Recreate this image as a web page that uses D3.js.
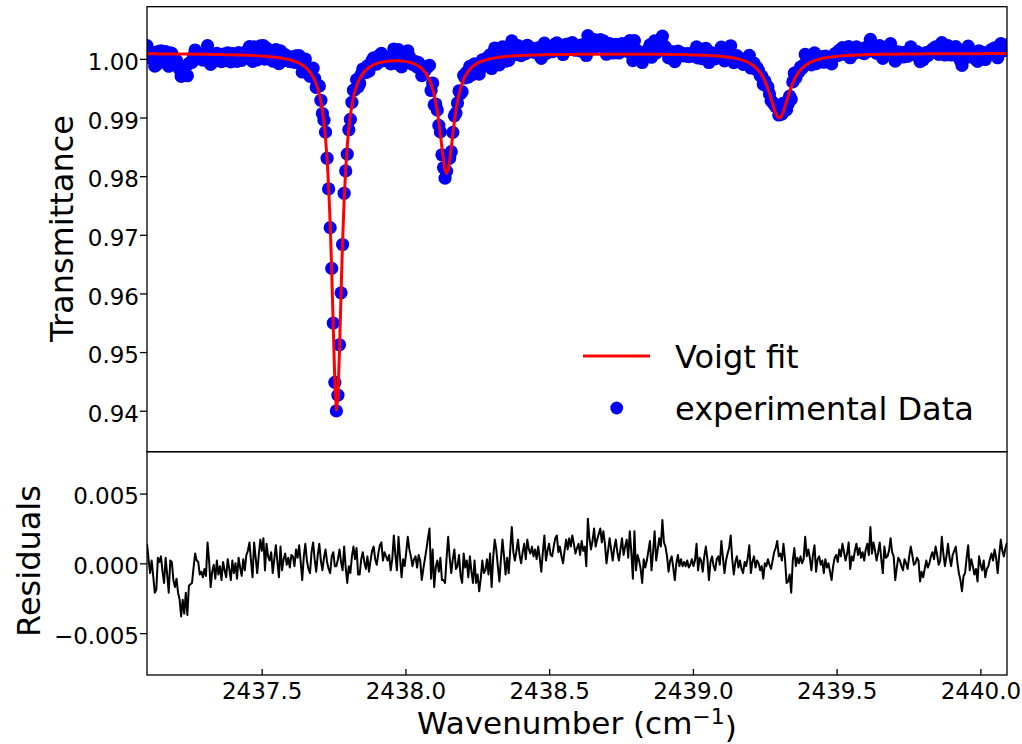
<!DOCTYPE html>
<html>
<head>
<meta charset="utf-8">
<script src="https://cdn.jsdelivr.net/npm/d3@7"></script>
<style>
  body { margin: 0; background: #ffffff; }
  svg { display: block; }
  text { font-family: "DejaVu Sans", sans-serif; fill: #000; }
</style>
</head>
<body>
<svg id="chart" width="1022" height="744"></svg>
<script>
// Spectral grid: first wavenumber and sampling step (cm^-1)
const waveStart = 2437.101;
const waveStep = 0.0054;

// Voigt fit of the transmittance, one value per grid point
const fitTransmittance = [
  1.00086,1.00086,1.00086,1.00086,1.00086,1.00086,1.00086,1.00085,1.00085,1.00085,
  1.00085,1.00085,1.00085,1.00085,1.00085,1.00084,1.00084,1.00084,1.00084,1.00084,
  1.00083,1.00083,1.00083,1.00083,1.00083,1.00082,1.00082,1.00082,1.00082,1.00082,
  1.00081,1.00081,1.00080,1.00080,1.00080,1.00079,1.00079,1.00078,1.00078,1.00077,
  1.00077,1.00077,1.00076,1.00076,1.00075,1.00075,1.00074,1.00074,1.00073,1.00073,
  1.00072,1.00072,1.00071,1.00071,1.00070,1.00070,1.00069,1.00068,1.00068,1.00067,
  1.00066,1.00065,1.00064,1.00063,1.00062,1.00061,1.00060,1.00058,1.00057,1.00056,
  1.00055,1.00054,1.00052,1.00051,1.00049,1.00047,1.00045,1.00043,1.00041,1.00038,
  1.00035,1.00033,1.00030,1.00027,1.00024,1.00020,1.00016,1.00012,1.00007,1.00002,
  0.99996,0.99990,0.99984,0.99976,0.99968,0.99960,0.99950,0.99939,0.99926,0.99912,
  0.99896,0.99878,0.99858,0.99834,0.99806,0.99774,0.99737,0.99692,0.99639,0.99574,
  0.99495,0.99397,0.99274,0.99118,0.98915,0.98650,0.98296,0.97823,0.97191,0.96376,
  0.95415,0.94504,0.94017,0.94236,0.95025,0.96000,0.96885,0.97588,0.98120,0.98516,
  0.98812,0.99038,0.99210,0.99345,0.99450,0.99536,0.99605,0.99660,0.99707,0.99747,
  0.99780,0.99808,0.99832,0.99852,0.99870,0.99886,0.99899,0.99910,0.99920,0.99929,
  0.99937,0.99943,0.99949,0.99954,0.99958,0.99961,0.99964,0.99966,0.99968,0.99969,
  0.99969,0.99969,0.99968,0.99966,0.99964,0.99961,0.99958,0.99954,0.99949,0.99943,
  0.99936,0.99927,0.99917,0.99905,0.99892,0.99875,0.99856,0.99834,0.99808,0.99776,
  0.99739,0.99693,0.99638,0.99571,0.99489,0.99387,0.99261,0.99109,0.98925,0.98714,
  0.98485,0.98267,0.98107,0.98046,0.98106,0.98269,0.98487,0.98717,0.98929,0.99114,
  0.99268,0.99394,0.99497,0.99581,0.99649,0.99705,0.99753,0.99791,0.99824,0.99852,
  0.99875,0.99896,0.99914,0.99930,0.99941,0.99953,0.99963,0.99972,0.99980,0.99988,
  0.99994,1.00000,1.00006,1.00011,1.00016,1.00020,1.00024,1.00029,1.00032,1.00035,
  1.00037,1.00040,1.00042,1.00044,1.00047,1.00048,1.00050,1.00052,1.00053,1.00055,
  1.00056,1.00057,1.00058,1.00060,1.00061,1.00062,1.00063,1.00064,1.00065,1.00065,
  1.00066,1.00067,1.00067,1.00068,1.00069,1.00070,1.00070,1.00071,1.00071,1.00072,
  1.00072,1.00072,1.00073,1.00073,1.00074,1.00074,1.00074,1.00075,1.00075,1.00075,
  1.00076,1.00076,1.00076,1.00076,1.00076,1.00077,1.00077,1.00077,1.00077,1.00077,
  1.00078,1.00078,1.00078,1.00078,1.00078,1.00078,1.00078,1.00078,1.00078,1.00078,
  1.00079,1.00079,1.00079,1.00079,1.00079,1.00079,1.00079,1.00079,1.00079,1.00079,
  1.00080,1.00080,1.00080,1.00080,1.00080,1.00080,1.00080,1.00080,1.00080,1.00080,
  1.00080,1.00080,1.00080,1.00080,1.00080,1.00079,1.00079,1.00079,1.00079,1.00079,
  1.00079,1.00079,1.00079,1.00079,1.00079,1.00078,1.00078,1.00078,1.00078,1.00078,
  1.00078,1.00078,1.00077,1.00077,1.00077,1.00076,1.00076,1.00076,1.00075,1.00075,
  1.00075,1.00074,1.00074,1.00073,1.00073,1.00072,1.00072,1.00071,1.00070,1.00070,
  1.00069,1.00068,1.00068,1.00067,1.00066,1.00065,1.00064,1.00064,1.00063,1.00062,
  1.00061,1.00059,1.00058,1.00056,1.00055,1.00053,1.00051,1.00049,1.00047,1.00045,
  1.00042,1.00040,1.00037,1.00034,1.00031,1.00028,1.00024,1.00020,1.00015,1.00010,
  1.00004,0.99998,0.99991,0.99984,0.99975,0.99966,0.99955,0.99943,0.99930,0.99915,
  0.99897,0.99878,0.99855,0.99829,0.99799,0.99764,0.99724,0.99677,0.99623,0.99561,
  0.99491,0.99412,0.99327,0.99238,0.99151,0.99075,0.99019,0.98993,0.98999,0.99039,
  0.99104,0.99185,0.99273,0.99362,0.99444,0.99520,0.99587,0.99646,0.99697,0.99741,
  0.99779,0.99812,0.99840,0.99865,0.99886,0.99905,0.99922,0.99936,0.99949,0.99960,
  0.99971,0.99980,0.99988,0.99995,1.00002,1.00008,1.00013,1.00018,1.00023,1.00027,
  1.00030,1.00034,1.00037,1.00040,1.00043,1.00046,1.00048,1.00050,1.00052,1.00054,
  1.00055,1.00057,1.00058,1.00060,1.00061,1.00063,1.00064,1.00065,1.00066,1.00067,
  1.00068,1.00069,1.00070,1.00070,1.00071,1.00072,1.00073,1.00073,1.00074,1.00075,
  1.00076,1.00076,1.00077,1.00077,1.00078,1.00078,1.00079,1.00079,1.00079,1.00080,
  1.00080,1.00080,1.00081,1.00081,1.00081,1.00082,1.00082,1.00082,1.00082,1.00083,
  1.00083,1.00083,1.00084,1.00084,1.00084,1.00084,1.00085,1.00085,1.00085,1.00085,
  1.00086,1.00086,1.00086,1.00086,1.00086,1.00086,1.00086,1.00086,1.00086,1.00086,
  1.00087,1.00087,1.00087,1.00087,1.00087,1.00087,1.00087,1.00087,1.00087,1.00087,
  1.00088,1.00088,1.00088,1.00088,1.00088,1.00088,1.00088,1.00088,1.00088,1.00088,
  1.00089,1.00089,1.00089,1.00089,1.00089,1.00089,1.00089,1.00089,1.00089,1.00089,
  1.00090,1.00090,1.00090,1.00090,1.00090,1.00090,1.00090,1.00090,1.00090,1.00090,
  1.00091,1.00091,1.00091,1.00091,1.00091
];

// Fit residuals (data - fit), in units of 1e-4
const residualsE4 = [
  14,3,-7,2,-9,-21,-19,4,1,5,
  -6,-14,4,-8,-21,2,1,-12,-17,-11,
  -21,-26,-38,-26,-36,-21,-37,-16,-15,-14,
  -3,7,2,1,-8,-6,-10,-4,-9,15,
  2,-17,-6,-1,-11,2,-8,-2,-12,1,
  -5,-10,3,-4,-12,2,-7,0,-11,4,
  -3,-9,3,-5,6,9,15,2,-10,15,
  4,-7,6,17,9,18,-5,14,5,2,
  8,-7,3,13,1,-10,12,-5,3,7,
  -1,4,-3,6,5,-2,10,4,13,1,
  -12,5,14,2,-4,-7,8,15,3,-6,
  6,14,2,-5,4,10,1,-4,-7,5,
  8,-2,-2,3,10,1,-5,12,-3,-14,
  -2,-7,5,12,3,11,-8,-8,3,8,
  1,-4,5,-6,2,9,12,3,-1,7,
  13,15,2,8,5,2,6,-5,3,20,
  6,-5,19,4,-10,3,-2,8,19,10,
  5,-2,3,5,-3,6,2,-12,-4,3,
  10,18,25,-11,10,-17,-3,2,-6,4,
  -12,-12,-14,4,19,4,-7,3,10,-4,
  -2,6,-9,-14,7,-3,2,-10,5,-6,
  -14,2,-14,-8,-20,-11,2,-7,-5,3,
  -8,7,-17,4,17,10,-2,-13,3,17,
  5,-8,4,-7,10,26,8,2,9,17,
  6,0,8,14,3,17,10,7,12,5,
  10,3,12,4,-6,8,20,2,9,14,
  6,5,12,18,20,8,12,5,0,9,
  17,10,18,12,20,14,7,11,14,6,
  16,9,12,-2,32,18,10,16,25,12,
  17,21,25,15,23,14,0,9,18,10,
  2,11,17,8,2,10,18,6,12,17,
  4,23,8,-11,23,-5,6,2,-4,-14,
  3,-3,2,9,16,-5,8,23,2,10,
  18,12,31,15,12,5,-6,2,5,-3,
  -12,0,6,-2,3,-2,1,-2,2,-3,
  -1,3,-2,2,14,-5,4,2,-6,5,
  12,3,-12,1,5,-2,-5,3,5,-1,
  16,4,-7,2,7,11,20,3,-8,1,
  5,-3,2,-4,-7,1,-2,4,13,-7,
  1,5,-3,2,0,-5,-2,-11,0,-2,
  3,-1,-4,2,8,11,16,5,7,2,
  14,3,-14,-13,-8,-21,2,11,-2,4,
  0,5,0,3,19,5,10,4,-5,6,
  13,-6,3,5,-1,2,-7,3,-3,0,
  -6,-12,-2,4,6,1,10,5,14,8,
  2,7,15,-4,5,2,9,14,6,11,
  4,8,2,10,14,6,26,7,15,9,
  2,8,15,3,-7,12,4,5,9,18,
  8,5,-12,-3,4,2,-2,-5,3,0,
  -4,5,12,6,-1,0,4,2,-13,-6,
  -10,-4,2,-3,0,5,8,3,12,6,
  -1,2,19,7,-2,5,14,4,-2,6,
  9,12,1,-7,-12,-20,-9,-7,4,13,
  -5,3,-2,-8,-4,-13,5,-1,-5,2,
  -10,-4,-2,3,7,2,10,4,-7,6,
  17,9,5,11,15
];

const xTicks = [2437.5, 2438.0, 2438.5, 2439.0, 2439.5, 2440.0];
const yTicksTop = [0.94, 0.95, 0.96, 0.97, 0.98, 0.99, 1.00];
const yTicksResidual = [-0.005, 0.000, 0.005];
const legendLabels = ["Voigt fit", "experimental Data"];

// Assemble spectrum records: experimental = fit + residual
const n = Math.min(fitTransmittance.length, residualsE4.length);
const spectrum = d3.range(n).map(i => {
  const residual = residualsE4[i] * 1e-4;
  return {
    wavenumber: waveStart + i * waveStep,
    fit: fitTransmittance[i],
    residual: residual,
    measured: fitTransmittance[i] + residual
  };
});

const svg = d3.select("#chart");
svg.append("rect").attr("width", 1022).attr("height", 744).attr("fill", "#fff");

const left = 147, right = 1007;
const topY0 = 6.7, topY1 = 451.7;
const resY0 = 451.7, resY1 = 675;

const x = d3.scaleLinear()
  .domain(d3.extent(spectrum, d => d.wavenumber))
  .range([left, right]);
const yTop = d3.scaleLinear().domain([0.93301, 1.00890]).range([topY1, topY0]);
const yRes = d3.scaleLinear().domain([-0.008, 0.008]).range([resY1, resY0]);

const defs = svg.append("defs");
defs.append("clipPath").attr("id", "clipTop")
  .append("rect").attr("x", left).attr("y", topY0).attr("width", right - left).attr("height", topY1 - topY0);
defs.append("clipPath").attr("id", "clipRes")
  .append("rect").attr("x", left).attr("y", resY0).attr("width", right - left).attr("height", resY1 - resY0);

// ---- Top panel: measured points and fitted profile
const topPlot = svg.append("g").attr("clip-path", "url(#clipTop)");
topPlot.selectAll("circle.pt")
  .data(spectrum)
  .join("circle")
  .attr("class", "pt")
  .attr("cx", d => x(d.wavenumber))
  .attr("cy", d => yTop(d.measured))
  .attr("r", 6.6)
  .attr("fill", "#0000ff");

topPlot.append("path")
  .datum(spectrum)
  .attr("fill", "none")
  .attr("stroke", "#ff0000")
  .attr("stroke-width", 3)
  .attr("stroke-linejoin", "round")
  .attr("d", d3.line().x(d => x(d.wavenumber)).y(d => yTop(d.fit)));

// ---- Bottom panel: residuals
const resPlot = svg.append("g").attr("clip-path", "url(#clipRes)");
resPlot.append("path")
  .datum(spectrum)
  .attr("fill", "none")
  .attr("stroke", "#000")
  .attr("stroke-width", 2)
  .attr("stroke-linejoin", "round")
  .attr("d", d3.line().x(d => x(d.wavenumber)).y(d => yRes(d.residual)));

// ---- Axes
function styleAxis(g, size) {
  g.select(".domain").remove();
  g.selectAll(".tick line").attr("stroke", "#000").attr("stroke-width", 1.3);
  g.selectAll(".tick text")
    .attr("fill", "#000")
    .style("font-family", '"DejaVu Sans", sans-serif')
    .style("font-size", size + "px");
}

const yAxisTop = svg.append("g")
  .attr("transform", `translate(${left},0)`)
  .call(d3.axisLeft(yTop).tickValues(yTicksTop).tickFormat(d3.format(".2f")).tickSize(7).tickPadding(1));
styleAxis(yAxisTop, 23);
yAxisTop.selectAll(".tick text").attr("dy", "0.46em");

const yAxisRes = svg.append("g")
  .attr("transform", `translate(${left},0)`)
  .call(d3.axisLeft(yRes).tickValues(yTicksResidual).tickFormat(d3.format(".3f")).tickSize(7).tickPadding(1));
styleAxis(yAxisRes, 23);
yAxisRes.selectAll(".tick text").attr("dy", "0.43em");

const xAxis = svg.append("g")
  .attr("transform", `translate(0,${resY1})`)
  .call(d3.axisBottom(x).tickValues(xTicks).tickFormat(d3.format(".1f")).tickSize(-6).tickPadding(8));
styleAxis(xAxis, 23);

// ---- Panel frames
svg.append("rect")
  .attr("x", left).attr("y", topY0).attr("width", right - left).attr("height", topY1 - topY0)
  .attr("fill", "none").attr("stroke", "#000").attr("stroke-width", 1.3);
svg.append("rect")
  .attr("x", left).attr("y", resY0).attr("width", right - left).attr("height", resY1 - resY0)
  .attr("fill", "none").attr("stroke", "#000").attr("stroke-width", 1.3);

// ---- Axis titles
svg.append("text")
  .attr("transform", "translate(73,228.5) rotate(-90)")
  .attr("text-anchor", "middle")
  .style("font-size", "32px")
  .text("Transmittance");

svg.append("text")
  .attr("transform", "translate(40,561) rotate(-90)")
  .attr("text-anchor", "middle")
  .style("font-size", "32px")
  .text("Residuals");

const xTitle = svg.append("text")
  .attr("x", (left + right) / 2)
  .attr("y", 734)
  .attr("text-anchor", "middle")
  .style("font-size", "31px");
xTitle.append("tspan").text("Wavenumber (cm");
xTitle.append("tspan").attr("dy", "-0.45em").style("font-size", "22px").text("\u22121");
xTitle.append("tspan").attr("dy", "0.45em").text(")");

// ---- Legend
const legend = svg.append("g");
legend.append("line")
  .attr("x1", 583).attr("x2", 650).attr("y1", 356).attr("y2", 356)
  .attr("stroke", "#ff0000").attr("stroke-width", 3);
legend.append("circle")
  .attr("cx", 616.7).attr("cy", 408).attr("r", 6.4).attr("fill", "#0000ff");
legend.append("text").attr("x", 675).attr("y", 368.3).style("font-size", "32px").text(legendLabels[0]);
legend.append("text").attr("x", 675).attr("y", 420).style("font-size", "32px").text(legendLabels[1]);
</script>
</body>
</html>
